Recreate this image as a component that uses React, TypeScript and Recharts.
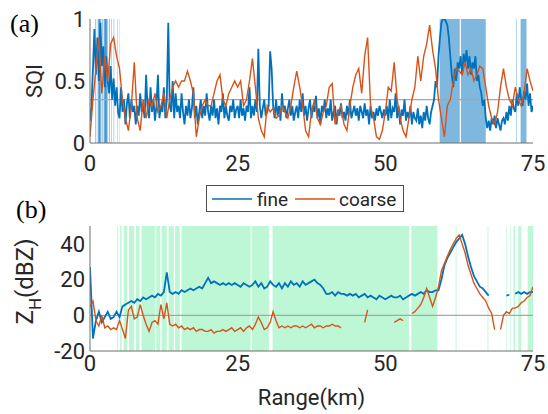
import {
  ComposedChart,
  Line,
  ReferenceArea,
  ReferenceLine,
  XAxis,
  YAxis,
} from "recharts";

const FINE = "#0072BD";
const COARSE = "#D95319";
const BOX = "#6f6f6f";
const TEXT = "#262626";

const rangeTicks = [0, 25, 50, 75];
const sqiTicks = [0, 0.5, 1];
const zhTicks = [-20, 0, 20, 40];

// SQI, fine resolution, one value every 0.25 km from 0 to 75 km
const sqiFineStep = 0.25;
const sqiFine = [
  0.18, 0.3, 0.6, 0.92, 0.55, 0.85, 0.5, 0.97, 0.62, 0.78, 0.45, 0.7, 0.5, 0.4, 0.62, 0.35, 0.52, 0.3, 0.45, 0.25,
  0.2, 0.45, 0.25, 0.35, 0.15, 0.32, 0.4, 0.2, 0.35, 0.25, 0.3, 0.15, 0.3, 0.22, 0.4, 0.25, 0.3, 0.2, 0.55, 0.28,
  0.2, 0.45, 0.25, 0.35, 0.18, 0.3, 0.55, 0.2, 0.3, 0.25, 0.45, 0.2, 0.35, 0.97, 0.3, 0.25, 0.5, 0.2, 0.4, 0.25,
  0.3, 0.2, 0.4, 0.25, 0.15, 0.3, 0.22, 0.35, 0.2, 0.28, 0.45, 0.2, 0.3, 0.15, 0.25, 0.35, 0.2, 0.3, 0.22, 0.4,
  0.25, 0.18, 0.3, 0.22, 0.35, 0.2, 0.28, 0.15, 0.3, 0.25, 0.4, 0.2, 0.3, 0.22, 0.18, 0.3, 0.25, 0.35, 0.2, 0.27,
  0.3, 0.2, 0.35, 0.22, 0.28, 0.18, 0.3, 0.25, 0.45, 0.2, 0.3, 0.22, 0.35, 0.25, 0.76, 0.3, 0.2, 0.28, 0.35, 0.22,
  0.25, 0.3, 0.74, 0.6, 0.3, 0.2, 0.35, 0.22, 0.3, 0.18, 0.4, 0.25, 0.3, 0.2, 0.28, 0.35, 0.22, 0.3, 0.18, 0.25,
  0.3, 0.2, 0.35, 0.25, 0.4, 0.22, 0.3, 0.18, 0.28, 0.35, 0.2, 0.3, 0.25, 0.38, 0.2, 0.28, 0.15, 0.3, 0.25, 0.35,
  0.2, 0.28, 0.22, 0.35, 0.18, 0.25, 0.3, 0.15, 0.27, 0.22, 0.32, 0.2, 0.25, 0.18, 0.3, 0.22, 0.35, 0.2, 0.25, 0.3,
  0.22, 0.28, 0.18, 0.3, 0.25, 0.2, 0.32, 0.22, 0.27, 0.15, 0.3, 0.2, 0.25, 0.18, 0.28, 0.22, 0.3, 0.25, 0.2, 0.27,
  0.22, 0.3, 0.18, 0.35, 0.2, 0.28, 0.25, 0.4, 0.2, 0.3, 0.15, 0.27, 0.22, 0.35, 0.18, 0.25, 0.2, 0.3, 0.15, 0.25,
  0.2, 0.18, 0.28, 0.15, 0.22, 0.12, 0.25, 0.18, 0.3, 0.2, 0.15, 0.25, 0.3, 0.35, 0.5, 0.45, 0.7, 0.85, 0.97, 1.0,
  1.0, 0.98, 0.95, 0.85, 0.7, 0.55, 0.45, 0.6, 0.5, 0.65, 0.6, 0.7, 0.55, 0.72, 0.65, 0.75, 0.6, 0.7, 0.55, 0.65,
  0.6, 0.7, 0.5, 0.55, 0.45, 0.4, 0.3, 0.35, 0.2, 0.12, 0.18, 0.1, 0.2, 0.15, 0.22, 0.12, 0.2, 0.15, 0.1, 0.18,
  0.2, 0.15, 0.25, 0.18, 0.3, 0.22, 0.35, 0.28, 0.25, 0.4, 0.3, 0.45, 0.35, 0.3, 0.42, 0.35, 0.48, 0.3, 0.4, 0.25,
  0.3,
];

// SQI, coarse resolution, one value every 0.5 km
const sqiCoarseStep = 0.5;
const sqiCoarse = [
  0.05, 0.35, 0.6, 0.85, 0.4, 0.7, 0.5, 0.8, 0.85, 0.7,
  0.6, 0.35, 0.2, 0.1, 0.3, 0.65, 0.2, 0.1, 0.35, 0.2,
  0.35, 0.3, 0.4, 0.25, 0.3, 0.4, 0.2, 0.35, 0.45, 0.5,
  0.45, 0.5, 0.5, 0.58, 0.5, 0.4, 0.05, 0.2, 0.3, 0.35,
  0.3, 0.3, 0.4, 0.5, 0.55, 0.35, 0.3, 0.4, 0.45, 0.5,
  0.45, 0.5, 0.3, 0.35, 0.5, 0.68, 0.45, 0.2, 0.1, 0.05,
  0.3, 0.25, 0.28, 0.2, 0.22, 0.3, 0.25, 0.2, 0.3, 0.45,
  0.58, 0.45, 0.3, 0.1, 0.05, 0.25, 0.35, 0.2, 0.15, 0.25,
  0.3, 0.45, 0.48, 0.15, 0.25, 0.3, 0.15, 0.1, 0.3, 0.45,
  0.55, 0.6, 0.4, 0.7, 0.85, 0.3, 0.2, 0.05, 0.03, 0.1,
  0.25, 0.45, 0.42, 0.65, 0.35, 0.2, 0.1, 0.05, 0.2, 0.35,
  0.45, 0.7, 0.5, 0.7, 0.8, 0.95, 0.75, 0.6, 0.35, 0.2,
  0.05, 0.3, 0.35, 0.5, 0.6, 0.58, 0.55, 0.65, 0.55, 0.6,
  0.5, 0.55, 0.62, 0.6, 0.45, 0.3, 0.2, 0.15, 0.25, 0.45,
  0.6, 0.45, 0.35, 0.3, 0.45, 0.35, 0.3, 0.4, 0.6, 0.5,
  0.42,
];

const sqiThreshold = 0.35;

// Z_H in dBZ, one value every 0.5 km, null = no data
const zhStep = 0.5;
const zhFine = [
  27, -13, -3, 2, -4, -1, 2, -2, -1, 2,
  -1, 5, 6, 7, 8, 7, 9, 8, 10, 9,
  10, 11, 10, 12, 11, 13, 24, 13, 12, 13,
  12, 14, 13, 14, 15, 14, 15, 16, 15, 18,
  21, 18, 19, 18, 17, 18, 17, 18, 17, 18,
  17, 16, 18, 17, 16, 17, 19, 16, 18, 15,
  16, 19, 17, 16, 18, 15, 18, 16, 19, 17,
  18, 16, 19, 17, 18, 19, 20, 18, 17, 15,
  12, 12, 13, 11, 13, 12, 12, 11, 12, 11,
  12, 10, 11, 12, 10, 11, 10, 9, 11, 10,
  9, 10, 11, 10, 10, 11, 9, 10, 11, 12,
  11, 12, 13, 12, 14, 13, 13, 14, 14, 20,
  28, 32, 35, 38, 41, 43, 45, 40, 33, 27,
  22, 19, 16, 15, 13, 11, null, null, null, null,
  null, 11, 11.5, null, 12, 13, 12, 13, 12, 13,
  13,
];

const zhCoarse = [
  5, 8, -3, -6, 0, -7, -6, -8, -7, -8,
  -3, -8, -13, 3, 5, -2, -1, 6, 0, -5,
  -9, -4, -3, -5, 6, -2, 7, -5, -6, -5,
  -7, -6, -8, -7, -8, -7, -9, -8, -8, -9,
  -9, -8, -10, -9, -9, -8, -9, -8, -7, -9,
  -8, -7, -9, -7, -6, -8, -5, -1, -4, -8,
  -7, -4, 2, -3, -7, -6, -7, -6, -7, -6,
  -6, -7, -6, -7, -6, -5, -7, -6, -6, -7,
  -6, -6, -5, -6, -6, -7, null, null, null, null,
  null, null, null, -4, 3, null, null, null, null, null,
  null, null, null, -4, -3, -2, -3, null, null, 1,
  2, 4, 6, 10, 15, 10, 5, 10, 16, 25,
  29, 33, 37, 40, 43, 45, 40, 35, 28, 23,
  18, 15, 12, 10, 8, 4, 1, -8, null, -8,
  0, 2, 1, 4, 4, 5, 7, 8, 10, 11,
  16,
];

// flagged range intervals [start km, end km]
const sqiFlagged = [
  [0.9, 1.05], [1.3, 1.9], [1.5, 1.7], [2.0, 2.15], [2.3, 3.0], [2.5, 2.8], [3.2, 3.35],
  [3.6, 3.7], [4.0, 4.1], [4.6, 4.68], [5.0, 5.05],
  [59.2, 62.6], [62.8, 67.0], [72.15, 72.25], [72.9, 73.9],
];

const zhFlagged = [
  [4.6, 4.75], [5.1, 5.35], [5.7, 6.3], [6.6, 7.5], [7.8, 8.4], [8.7, 11.0],
  [11.2, 11.9], [12.1, 13.0], [13.3, 14.2], [14.4, 15.2], [15.5, 27.2],
  [27.4, 30.3], [30.9, 54.0], [54.4, 58.8], [61.9, 62.05], [67.3, 67.45],
  [70.5, 70.6], [71.1, 71.2], [71.7, 72.0], [72.5, 73.0], [74.1, 75],
];

const toPoints = (values: (number | null)[], step: number) =>
  values.map((v, i) => ({ range: i * step, value: v }));

const tickStyle = { fontSize: 22, fill: TEXT, fontFamily: "Roboto" };

function SideLabel(props: any) {
  const vb = props.viewBox || { x: 0, y: 0, width: 90, height: 124 };
  const cx = vb.x + props.shiftX;
  const cy = vb.y + vb.height / 2 + (props.shiftY || 0);
  return (
    <text
      transform={`translate(${cx},${cy}) rotate(-90)`}
      textAnchor="middle"
      dominantBaseline="central"
      fontFamily="Roboto"
      fontSize={props.size}
      fill={TEXT}
    >
      {props.children}
    </text>
  );
}

function SqiPanel() {
  return (
    <ComposedChart
      width={548}
      height={180}
      margin={{ top: 19, right: 15, bottom: 7, left: 0 }}
    >
      <XAxis
        type="number"
        dataKey="range"
        domain={[0, 75]}
        ticks={rangeTicks}
        interval={0}
        allowDataOverflow
        tickLine={false}
        tickSize={0}
        tickMargin={12}
        height={30}
        axisLine={{ stroke: BOX }}
        tick={tickStyle}
      />
      <XAxis xAxisId="top" orientation="top" type="number" domain={[0, 75]} tick={false} tickLine={false} height={0} axisLine={{ stroke: BOX }} />
      <YAxis
        type="number"
        domain={[0, 1]}
        ticks={sqiTicks}
        interval={0}
        allowDataOverflow
        tickLine={false}
        tickSize={0}
        tickMargin={5}
        width={90}
        axisLine={{ stroke: BOX }}
        tick={tickStyle}
        label={(p: any) => (
          <SideLabel {...p} shiftX={34} size={22}>
            SQI
          </SideLabel>
        )}
      />
      <YAxis yAxisId="right" orientation="right" type="number" domain={[0, 1]} tick={false} tickLine={false} width={0} axisLine={{ stroke: BOX }} />
      {sqiFlagged.map(([a, b], i) => (
        <ReferenceArea key={i} x1={a} x2={b} fill={FINE} fillOpacity={0.5} stroke="none" ifOverflow="hidden" />
      ))}
      <ReferenceLine y={sqiThreshold} stroke="#a6a6a6" strokeWidth={1.2} />
      <Line data={toPoints(sqiFine, sqiFineStep)} dataKey="value" stroke={FINE} strokeWidth={1.8} dot={false} isAnimationActive={false} />
      <Line data={toPoints(sqiCoarse, sqiCoarseStep)} dataKey="value" stroke={COARSE} strokeWidth={1.4} dot={false} isAnimationActive={false} />
    </ComposedChart>
  );
}

function ZhPanel() {
  return (
    <ComposedChart
      width={548}
      height={234}
      margin={{ top: 46, right: 15, bottom: 0, left: 0 }}
    >
      <XAxis
        type="number"
        dataKey="range"
        domain={[0, 75]}
        ticks={rangeTicks}
        interval={0}
        allowDataOverflow
        tickLine={false}
        tickSize={0}
        tickMargin={4}
        height={63}
        axisLine={{ stroke: BOX }}
        tick={tickStyle}
        label={{
          value: "Range(km)",
          position: "insideBottom",
          offset: 9,
          style: { fontSize: 22, fill: TEXT, fontFamily: "Roboto" },
        }}
      />
      <XAxis xAxisId="top" orientation="top" type="number" domain={[0, 75]} tick={false} tickLine={false} height={0} axisLine={{ stroke: BOX }} />
      <YAxis
        type="number"
        domain={[-20, 50]}
        ticks={zhTicks}
        interval={0}
        allowDataOverflow
        tickLine={false}
        tickSize={0}
        tickMargin={5}
        width={90}
        axisLine={{ stroke: BOX }}
        tick={tickStyle}
        label={(p: any) => (
          <SideLabel {...p} shiftX={25} shiftY={-7} size={24}>
            <tspan>Z</tspan>
            <tspan baselineShift="sub" fontSize={17}>H</tspan>
            <tspan>(dBZ)</tspan>
          </SideLabel>
        )}
      />
      <YAxis yAxisId="right" orientation="right" type="number" domain={[-20, 50]} tick={false} tickLine={false} width={0} axisLine={{ stroke: BOX }} />
      {zhFlagged.map(([a, b], i) => (
        <ReferenceArea key={i} x1={a} x2={b} fill="#bdf7d6" fillOpacity={1} stroke="none" ifOverflow="hidden" />
      ))}
      <ReferenceLine y={0} stroke="#a6a6a6" strokeWidth={1.2} />
      <Line data={toPoints(zhFine, zhStep)} dataKey="value" stroke={FINE} strokeWidth={1.8} dot={false} connectNulls={false} isAnimationActive={false} />
      <Line data={toPoints(zhCoarse, zhStep)} dataKey="value" stroke={COARSE} strokeWidth={1.4} dot={false} connectNulls={false} isAnimationActive={false} />
    </ComposedChart>
  );
}

function Legend() {
  return (
    <div
      style={{
        position: "absolute",
        left: 206,
        top: 185,
        width: 198,
        height: 27,
        boxSizing: "border-box",
        border: "1px solid #4d4d4d",
        background: "#fff",
      }}
    >
      <svg width={196} height={25} style={{ display: "block" }}>
        <line x1={5} y1={13} x2={45} y2={13} stroke={FINE} strokeWidth={1.5} />
        <text x={50} y={19.5} fontFamily="Roboto" fontSize={19} fill={TEXT}>fine</text>
        <line x1={88} y1={13} x2={128} y2={13} stroke={COARSE} strokeWidth={1.5} />
        <text x={132} y={19.5} fontFamily="Roboto" fontSize={19} fill={TEXT}>coarse</text>
      </svg>
    </div>
  );
}

export default function App() {
  return (
    <div
      style={{
        position: "absolute",
        left: 0,
        top: 0,
        width: 548,
        height: 414,
        background: "#fff",
        overflow: "hidden",
      }}
    >
      <div style={{ position: "absolute", left: 0, top: 0 }}>
        <SqiPanel />
      </div>
      <div style={{ position: "absolute", left: 0, top: 180 }}>
        <ZhPanel />
      </div>
      <Legend />
      <svg width={548} height={414} style={{ position: "absolute", left: 0, top: 0, pointerEvents: "none" }}>
        <text x={10} y={32} fontFamily="Liberation Serif" fontSize={26} fill="#000">(a)</text>
        <text x={16} y={218} fontFamily="Liberation Serif" fontSize={26} fill="#000">(b)</text>
      </svg>
    </div>
  );
}
